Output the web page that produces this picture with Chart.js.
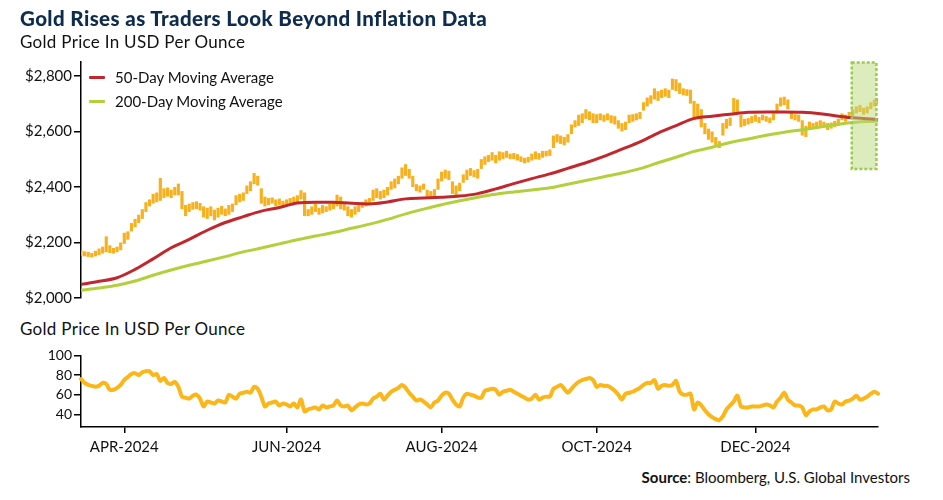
<!DOCTYPE html>
<html><head><meta charset="utf-8">
<script src="https://cdn.jsdelivr.net/npm/chart.js@4.4.1/dist/chart.umd.min.js"></script>
<style>
html,body{margin:0;padding:0;background:#fff;}
#wrap{position:relative;width:943px;height:500px;overflow:hidden;font-family:Lato,sans-serif;}
.t{position:absolute;white-space:nowrap;line-height:1;}
canvas{position:absolute;left:0;}
.sw{position:absolute;height:3px;width:16px;left:89px;border-radius:1px;}
</style></head><body>
<div id="wrap">
<canvas id="c1" width="943" height="310" style="top:0"></canvas>
<canvas id="c2" width="943" height="125" style="top:340px"></canvas>
<div class="t" style="left:20px;top:8px;font-size:20.5px;letter-spacing:0.4px;font-weight:900;color:#0e2c4d">Gold Rises as Traders Look Beyond Inflation Data</div>
<div class="t" style="left:20px;top:33px;font-size:17px;letter-spacing:0.3px;color:#111">Gold Price In USD Per Ounce</div>
<div class="sw" style="top:76px;background:#C1272D"></div>
<div class="t" style="left:115px;top:70px;font-size:15px;color:#111">50-Day Moving Average</div>
<div class="sw" style="top:100px;background:#B3CF3B"></div>
<div class="t" style="left:115px;top:94px;font-size:15px;color:#111">200-Day Moving Average</div>
<div class="t" style="left:20px;top:320px;font-size:17px;letter-spacing:0.3px;color:#111">Gold Price In USD Per Ounce</div>
<div class="t" style="right:33px;top:470px;font-size:15px;color:#111"><b>Source</b>: Bloomberg, U.S. Global Investors</div>
</div>
<script>
// Trading-day categories (weekdays) from 14 Mar 2024 to 17 Jan 2025
const startDate = '2024-03-14', endDate = '2025-01-17';
const labels = [];
for (let d = new Date(startDate + 'T00:00:00Z'); d <= new Date(endDate + 'T00:00:00Z'); d.setUTCDate(d.getUTCDate() + 1)) {
  const wd = d.getUTCDay();
  if (wd > 0 && wd < 6) labels.push(d.toISOString().slice(0, 10));
}

// Daily gold price range (low / high), USD per ounce
const goldLow = [
2152,2150,2148,2146,2150,2155,2160,2165,2162,2160,
2165,2172,2195,2210,2240,2255,2270,2285,2310,2330,
2340,2345,2350,2360,2365,2360,2370,2370,2320,2295,
2310,2318,2320,2315,2290,2285,2295,2280,2290,2300,
2295,2300,2310,2335,2345,2350,2375,2385,2410,2405,
2340,2330,2335,2340,2330,2335,2325,2330,2335,2340,
2345,2355,2295,2295,2300,2310,2300,2305,2310,2315,
2320,2330,2320,2315,2295,2290,2300,2310,2325,2330,
2335,2350,2360,2355,2360,2370,2390,2395,2410,2430,
2440,2430,2400,2385,2380,2390,2365,2360,2365,2390,
2420,2430,2425,2375,2370,2385,2415,2425,2440,2435,
2430,2465,2480,2490,2495,2485,2495,2500,2505,2500,
2500,2495,2490,2485,2488,2495,2500,2498,2505,2510,
2512,2540,2560,2555,2550,2560,2590,2615,2620,2630,
2645,2640,2630,2630,2640,2635,2640,2630,2625,2610,
2600,2605,2630,2635,2640,2645,2675,2690,2700,2715,
2710,2720,2725,2720,2750,2745,2735,2730,2728,2700,
2640,2650,2615,2590,2570,2560,2545,2540,2585,2610,
2620,2660,2670,2615,2620,2625,2630,2635,2630,2640,
2635,2630,2640,2665,2690,2695,2680,2645,2640,2635,
2585,2580,2605,2610,2615,2620,2615,2605,2610,2615,
2620,2640,2635,2645,2655,2665,2670,2660,2665,2680,
2690,2700];
const goldHigh = [
2172,2168,2166,2162,2170,2178,2185,2222,2190,2180,
2185,2200,2235,2240,2270,2285,2300,2320,2345,2355,
2375,2380,2432,2395,2398,2390,2400,2412,2385,2335,
2340,2345,2348,2342,2330,2325,2330,2318,2325,2332,
2322,2335,2340,2370,2375,2380,2405,2420,2450,2440,
2395,2365,2360,2362,2355,2358,2350,2355,2360,2365,
2370,2388,2380,2320,2330,2340,2325,2335,2330,2340,
2345,2372,2365,2345,2330,2320,2330,2338,2345,2355,
2360,2390,2395,2385,2390,2400,2420,2430,2440,2470,
2482,2465,2440,2410,2405,2412,2390,2385,2392,2430,
2455,2462,2458,2420,2405,2415,2445,2462,2468,2460,
2465,2500,2510,2515,2525,2515,2528,2525,2530,2520,
2522,2518,2510,2505,2508,2520,2528,2522,2530,2530,
2535,2585,2590,2585,2580,2590,2625,2640,2660,2665,
2680,2672,2665,2662,2665,2660,2665,2658,2655,2640,
2630,2635,2660,2662,2665,2670,2705,2722,2730,2755,
2745,2750,2755,2750,2790,2788,2775,2755,2752,2750,
2710,2700,2680,2630,2610,2600,2580,2565,2630,2645,
2650,2720,2715,2660,2645,2648,2655,2660,2652,2660,
2655,2650,2665,2700,2722,2725,2715,2670,2662,2660,
2640,2620,2635,2630,2635,2640,2635,2630,2632,2638,
2645,2665,2660,2670,2680,2690,2695,2685,2690,2705,
2715,2720];

// Moving averages sampled weekly (Thursdays) plus the last day
const ma50 = [2049,2060,2073,2103,2141,2181,2211,2244,2272,2293,
2313,2326,2342,2345,2345,2341,2339,2346,2357,2360,
2363,2367,2376,2393,2412,2430,2447,2467,2487,2510,
2536,2562,2594,2621,2647,2655,2662,2669,2670,2670,
2669,2664,2655,2648,2644,2643];
const ma200 = [2028,2036,2046,2061,2082,2101,2118,2133,2149,2166,
2180,2195,2210,2223,2236,2251,2266,2283,2303,2320,
2336,2350,2363,2374,2382,2389,2397,2410,2423,2437,
2450,2466,2487,2507,2528,2543,2560,2573,2586,2597,
2606,2616,2626,2633,2637,2638];
const maDates = labels.filter(d => new Date(d + 'T00:00:00Z').getUTCDay() === 4).concat([endDate]);

// Lower panel (daily oscillator)
const lower = [
76,72,70,69,68,69,72,71,65,65,
67,70,75,78,81,82,80,83,84,84,
80,81,74,77,72,71,73,68,58,57,
56,59,60,56,48,53,52,51,54,53,
52,60,58,56,61,62,63,62,68,66,
58,48,51,52,53,49,51,50,48,51,
47,55,43,45,46,47,45,49,47,48,
49,54,49,48,49,44,47,50,51,50,
51,56,58,61,55,59,63,65,67,70,
67,62,58,54,55,53,50,47,52,54,
59,62,61,55,50,48,57,61,60,59,
57,57,64,65,66,65,60,63,64,65,
63,61,59,57,55,56,60,55,57,58,
58,66,68,70,66,62,66,70,73,75,
76,77,75,68,70,69,69,67,64,60,
55,61,62,63,65,67,70,72,72,75,
66,69,70,69,70,74,63,60,60,61,
45,52,49,44,40,37,35,34,38,45,
49,53,59,48,47,47,48,48,48,49,
50,49,47,53,57,62,55,52,49,49,
47,39,43,45,45,47,48,44,45,53,
51,50,53,54,56,59,55,56,58,61,
63,61];

const priceTicks = [2000, 2200, 2400, 2600, 2800];
const lowerTicks = [40, 60, 80, 100];
const tickDates = ['2024-04-01', '2024-06-03', '2024-08-01', '2024-10-01', '2024-12-02'];
const tickLabels = ['APR-2024', 'JUN-2024', 'AUG-2024', 'OCT-2024', 'DEC-2024'];
const highlight = { from: '2025-01-08', to: '2025-01-16', low: 2465, high: 2848 };

const axisGrid = { drawOnChartArea: false, drawTicks: true, tickLength: 7, color: '#000', lineWidth: 1.5 };
const axisBorder = { display: true, color: '#000', width: 1.5 };

const boxPlugin = {
  id: 'highlightBox',
  afterDatasetsDraw(chart) {
    const { ctx, scales: { x, y } } = chart;
    const lb = x.getLabels();
    const x0 = x.getPixelForValue(lb.indexOf(highlight.from)) - 1;
    const x1 = x.getPixelForValue(lb.indexOf(highlight.to)) + 2;
    const y0 = y.getPixelForValue(highlight.high);
    const y1 = y.getPixelForValue(highlight.low);
    ctx.save();
    ctx.fillStyle = 'rgba(186,218,122,0.5)';
    ctx.fillRect(x0, y0, x1 - x0, y1 - y0);
    ctx.strokeStyle = '#9DCB52';
    ctx.lineWidth = 2.5;
    ctx.setLineDash([3, 2]);
    ctx.strokeRect(x0, y0, x1 - x0, y1 - y0);
    ctx.restore();
  }
};

new Chart(document.getElementById('c1'), {
  type: 'bar',
  data: {
    labels,
    datasets: [
      { type: 'line', label: '50-Day Moving Average', data: maDates.map((d, k) => ({ x: d, y: ma50[k] })),
        borderColor: '#C1272D', borderWidth: 3, pointRadius: 0, cubicInterpolationMode: 'monotone', order: 1 },
      { type: 'line', label: '200-Day Moving Average', data: maDates.map((d, k) => ({ x: d, y: ma200[k] })),
        borderColor: '#B3CF3B', borderWidth: 3, pointRadius: 0, cubicInterpolationMode: 'monotone', order: 2 },
      { type: 'bar', label: 'Gold', data: goldLow.map((lo, k) => [lo, goldHigh[k]]),
        backgroundColor: '#F8B11E', barPercentage: 0.88, categoryPercentage: 1, order: 3 }
    ]
  },
  options: {
    responsive: false, animation: false, events: [],
    layout: { padding: { top: 62, right: 65, bottom: 12, left: 0 } },
    plugins: { legend: { display: false }, tooltip: { enabled: false } },
    scales: {
      x: { display: false, offset: false },
      y: {
        min: 2000, max: 2850,
        afterFit(s) { s.width = 81; },
        afterBuildTicks(s) { s.ticks = priceTicks.map(v => ({ value: v })); },
        ticks: { callback: v => '$' + v.toLocaleString('en-US'), font: { family: 'Lato', size: 15 }, color: '#111', padding: 2 },
        grid: axisGrid, border: axisBorder
      }
    }
  },
  plugins: [boxPlugin]
});

new Chart(document.getElementById('c2'), {
  type: 'line',
  data: { labels, datasets: [{ data: lower, borderColor: '#FBB61A', borderWidth: 4, pointRadius: 0, tension: 0.3,
    borderJoinStyle: 'round', borderCapStyle: 'round' }] },
  options: {
    responsive: false, animation: false, events: [],
    layout: { padding: { top: 15.5, right: 65, bottom: 0, left: 0 } },
    plugins: { legend: { display: false }, tooltip: { enabled: false } },
    scales: {
      x: {
        offset: false,
        afterFit(s) { s.height = 38; },
        afterBuildTicks(s) { s.ticks = tickDates.map(d => ({ value: labels.indexOf(d) })); },
        ticks: { autoSkip: false, maxRotation: 0, padding: 5, font: { family: 'Lato', size: 15 }, color: '#111',
          callback(v) { const k = tickDates.indexOf(this.getLabelForValue(v)); return k < 0 ? '' : tickLabels[k]; } },
        grid: Object.assign({}, axisGrid, { tickLength: 6 }), border: axisBorder
      },
      y: {
        min: 27, max: 100,
        afterFit(s) { s.width = 81; },
        afterBuildTicks(s) { s.ticks = lowerTicks.map(v => ({ value: v })); },
        ticks: { font: { family: 'Lato', size: 14 }, color: '#111', padding: 2 },
        grid: axisGrid, border: axisBorder
      }
    }
  }
});
</script>
</body></html>
